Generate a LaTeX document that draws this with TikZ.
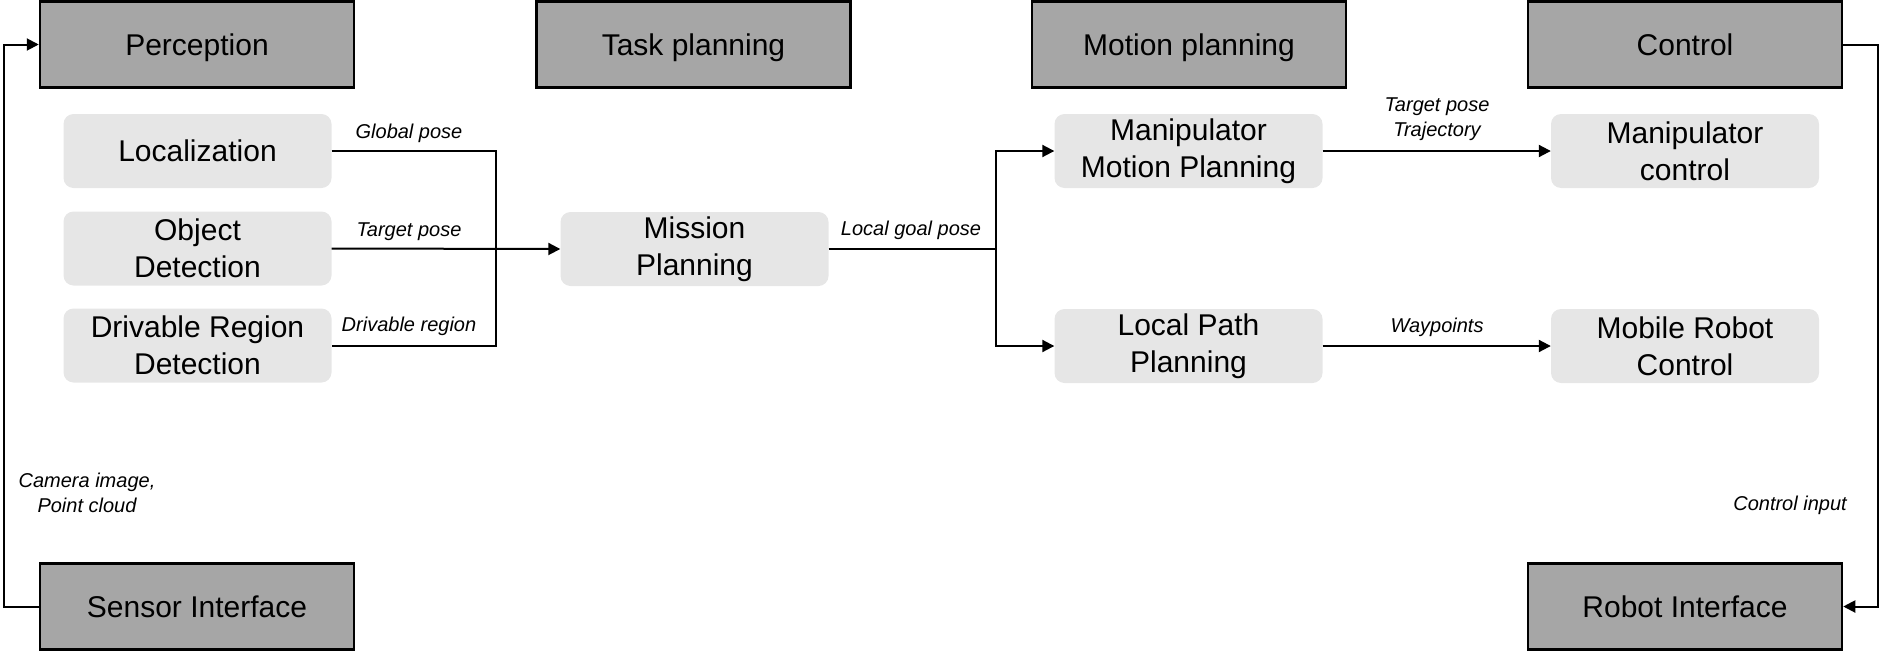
\documentclass[tikz,border=0pt]{standalone}
\usepackage{fontspec}
\setmainfont{Liberation Sans}
\usetikzlibrary{arrows.meta}
\definecolor{darkbox}{HTML}{A6A6A6}
\definecolor{lightbox}{HTML}{E6E6E6}
\begin{document}
\begin{tikzpicture}[x=1pt,y=-1pt,
  headbox/.style={draw=black, line width=2.5pt, fill=darkbox, minimum width=314pt, minimum height=86pt, inner sep=0pt, font=\fontsize{30}{37}\selectfont, align=center, text height=21.5pt, text depth=0pt},
  subbox/.style={fill=lightbox, rounded corners=10pt, minimum width=268pt, minimum height=74pt, inner sep=0pt, font=\fontsize{30}{37}\selectfont, align=center},
  lbl/.style={font=\fontsize{20}{25}\itshape, align=center, inner sep=0pt},
  conn/.style={line width=2pt, draw=black},
  arr/.style={conn, -{Triangle[length=12pt,width=12pt]}}]
\useasboundingbox (0,0) rectangle (1882,651);
% header boxes
\node[headbox] (per) at (197,44.5) {Perception};
\node[headbox] (tsk) at (693.5,44.5) {Task planning};
\node[headbox] (mot) at (1189,44.5) {Motion planning};
\node[headbox] (ctl) at (1685,44.5) {Control};
\node[headbox] (sen) at (197,606.5) {Sensor Interface};
\node[headbox] (rob) at (1685,606.5) {Robot Interface};
% sub boxes
\node[subbox] (loc) at (197.5,151) {Localization};
\node[subbox] (obj) at (197.5,248.5) {Object\\Detection};
\node[subbox] (drv) at (197.5,345.5) {Drivable Region\\Detection};
\node[subbox] (mis) at (694.5,249) {Mission\\Planning};
\node[subbox] (mmp) at (1188.5,151) {Manipulator\\Motion Planning};
\node[subbox] (mc) at (1685,151) {Manipulator\\control};
\node[subbox] (lpp) at (1188.5,346) {Local Path\\Planning};
\node[subbox] (mrc) at (1685,346) {Mobile Robot\\Control};
% junctions
\coordinate (jl) at (496,249);
\coordinate (jr) at (996,249);
\coordinate (cl) at (4,44.5);
\coordinate (cr) at (1878,606.5);
% connectors
\draw[conn] (loc.east) -| (jl) |- (drv.east);
\draw[arr] (obj.east) -- (mis.west);
\draw[conn] (mis.east) -- (jr);
\draw[arr] (jr) |- (mmp.west);
\draw[arr] (jr) |- (lpp.west);
\draw[arr] (mmp.east) -- (mc.west);
\draw[arr] (lpp.east) -- (mrc.west);
\draw[arr] (sen.west) -| (cl) -- (per.west);
\draw[arr] (ctl.east) -| (cr) -- (rob.east);
% labels
\node[lbl] (l1) at (409,133) {Global pose};
\node[lbl] (l2) at (409,232) {Target pose};
\node[lbl] (l3) at (409,326) {Drivable region};
\node[lbl] (l4) at (911,230) {Local goal pose};
\node[lbl] (l5) at (1437,119.5) {Target pose\\Trajectory};
\node[lbl] (l6) at (1437,327) {Waypoints};
\node[lbl] (l7) at (87,492.5) {Camera image,\\Point cloud};
\node[lbl] (l8) at (1790,505) {Control input};
\end{tikzpicture}
\end{document}
